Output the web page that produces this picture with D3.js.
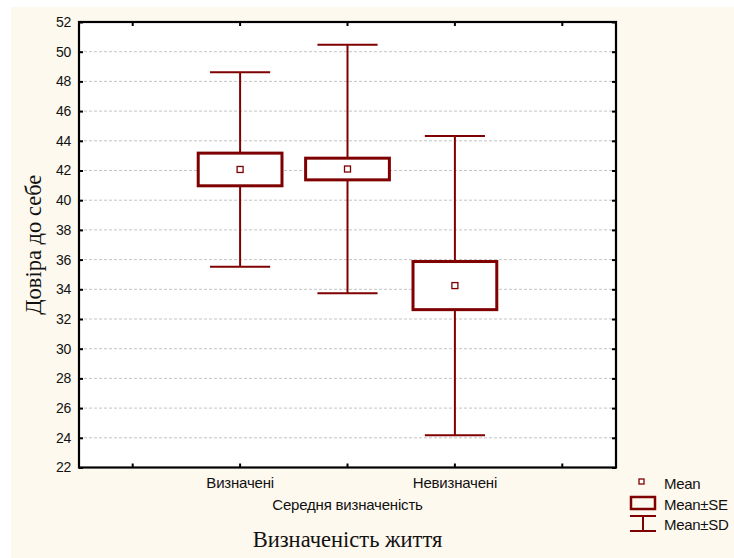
<!DOCTYPE html>
<html>
<head>
<meta charset="utf-8">
<script src="https://cdn.jsdelivr.net/npm/d3@7"></script>
<style>
  html, body { margin: 0; padding: 0; background: #ffffff; }
  svg { display: block; }
</style>
</head>
<body>
<svg id="chart" width="734" height="558"></svg>
<script>
// Group labels along the x axis
const categories = ["Визначені", "Середня визначеність", "Невизначені"];
// Group statistics for "Довіра до себе"
const means = [42.07, 42.1, 34.25];
const stdErrors = [1.1, 0.73, 1.62];
const stdDevs = [6.55, 8.37, 10.07];
// Y axis tick values
const yTicks = [22, 24, 26, 28, 30, 32, 34, 36, 38, 40, 42, 44, 46, 48, 50, 52];

const yTitle = "Довіра до себе";
const xTitle = "Визначеність життя";
const legendItems = ["Mean", "Mean±SE", "Mean±SD"];

const W = 734, H = 558;
const plot = { left: 79, right: 616, top: 22, bottom: 467.5 };
const dark = "#7f0000";
const sans = "Liberation Sans, Arial, sans-serif";
const serif = "Liberation Serif, Times New Roman, serif";

const svg = d3.select("#chart");

// cream panel behind the chart
svg.append("rect")
  .attr("x", 11).attr("y", 7)
  .attr("width", W - 11).attr("height", H - 7)
  .attr("fill", "#fef9ef");

// plotting area
svg.append("rect")
  .attr("x", plot.left).attr("y", plot.top)
  .attr("width", plot.right - plot.left).attr("height", plot.bottom - plot.top)
  .attr("fill", "#ffffff");

const y = d3.scaleLinear().domain([22, 52]).range([plot.bottom, plot.top]);
const x = d3.scalePoint().domain(categories).range([plot.left, plot.right]).padding(1.5);
const step = x.step();

// dashed horizontal grid
svg.append("g")
  .selectAll("line")
  .data(yTicks.filter(v => v > 22 && v < 52))
  .join("line")
  .attr("x1", plot.left).attr("x2", plot.right)
  .attr("y1", d => y(d)).attr("y2", d => y(d))
  .attr("stroke", "#c4c4c4")
  .attr("stroke-width", 1)
  .attr("stroke-dasharray", "3,2");

// left axis labels and inward ticks
const yAxis = d3.axisLeft(y).tickValues(yTicks).tickSize(-4).tickPadding(8).tickFormat(d3.format("d"));
const gy = svg.append("g").attr("transform", `translate(${plot.left},0)`).call(yAxis);
gy.select(".domain").remove();
gy.selectAll(".tick line").attr("stroke", "#000").attr("stroke-width", 2);
gy.selectAll("text")
  .attr("font-family", sans)
  .attr("font-size", 14)
  .attr("letter-spacing", -0.3)
  .attr("fill", "#111");

// right axis ticks (no labels)
const yAxisR = d3.axisRight(y).tickValues(yTicks).tickSize(-4).tickFormat("");
const gyr = svg.append("g").attr("transform", `translate(${plot.right},0)`).call(yAxisR);
gyr.select(".domain").remove();
gyr.selectAll(".tick line").attr("stroke", "#000").attr("stroke-width", 2);

// x tick positions: the groups plus one empty slot on either side
const xTickPos = [x(categories[0]) - step, ...categories.map(c => x(c)), x(categories[categories.length - 1]) + step];
svg.append("g").selectAll("line").data(xTickPos).join("line")
  .attr("x1", d => d).attr("x2", d => d)
  .attr("y1", plot.bottom).attr("y2", plot.bottom - 4)
  .attr("stroke", "#000").attr("stroke-width", 2);
svg.append("g").selectAll("line").data(xTickPos).join("line")
  .attr("x1", d => d).attr("x2", d => d)
  .attr("y1", plot.top).attr("y2", plot.top + 4)
  .attr("stroke", "#000").attr("stroke-width", 2);

// x category labels, staggered on two rows
svg.append("g").selectAll("text").data(categories).join("text")
  .attr("x", d => x(d))
  .attr("y", (d, i) => i % 2 === 1 ? 510 : 488)
  .attr("text-anchor", "middle")
  .attr("font-family", sans)
  .attr("font-size", 15)
  .attr("letter-spacing", -0.2)
  .attr("fill", "#111")
  .text(d => d);

// frame
svg.append("rect")
  .attr("x", plot.left).attr("y", plot.top)
  .attr("width", plot.right - plot.left).attr("height", plot.bottom - plot.top)
  .attr("fill", "none")
  .attr("stroke", "#000")
  .attr("stroke-width", 2.2);

// whisker + box plots
const boxHalf = step * 0.39;
const capHalf = step * 0.28;
const groups = svg.append("g").selectAll("g")
  .data(categories.map((c, i) => ({ c, m: means[i], se: stdErrors[i], sd: stdDevs[i] })))
  .join("g");

// whisker stems (mean±SD)
groups.append("line")
  .attr("x1", d => x(d.c)).attr("x2", d => x(d.c))
  .attr("y1", d => y(d.m + d.sd)).attr("y2", d => y(d.m - d.sd))
  .attr("stroke", dark).attr("stroke-width", 2);
groups.append("line")
  .attr("x1", d => x(d.c) - capHalf).attr("x2", d => x(d.c) + capHalf)
  .attr("y1", d => y(d.m + d.sd)).attr("y2", d => y(d.m + d.sd))
  .attr("stroke", dark).attr("stroke-width", 2);
groups.append("line")
  .attr("x1", d => x(d.c) - capHalf).attr("x2", d => x(d.c) + capHalf)
  .attr("y1", d => y(d.m - d.sd)).attr("y2", d => y(d.m - d.sd))
  .attr("stroke", dark).attr("stroke-width", 2);

// SE boxes
groups.append("rect")
  .attr("x", d => x(d.c) - boxHalf)
  .attr("y", d => y(d.m + d.se))
  .attr("width", boxHalf * 2)
  .attr("height", d => y(d.m - d.se) - y(d.m + d.se))
  .attr("fill", "#ffffff")
  .attr("stroke", dark).attr("stroke-width", 3);

// mean markers
groups.append("rect")
  .attr("x", d => x(d.c) - 3)
  .attr("y", d => y(d.m) - 3)
  .attr("width", 6).attr("height", 6)
  .attr("fill", "#ffffff")
  .attr("stroke", dark).attr("stroke-width", 1.3);

// axis titles
svg.append("text")
  .attr("transform", `translate(41,${(plot.top + plot.bottom) / 2}) rotate(-90)`)
  .attr("text-anchor", "middle")
  .attr("font-family", serif)
  .attr("font-size", 22.5)
  .attr("fill", "#111")
  .text(yTitle);

svg.append("text")
  .attr("x", (plot.left + plot.right) / 2)
  .attr("y", 547)
  .attr("text-anchor", "middle")
  .attr("font-family", serif)
  .attr("font-size", 22.5)
  .attr("fill", "#111")
  .text(xTitle);

// legend
const lg = svg.append("g");
lg.append("rect")
  .attr("x", 639).attr("y", 479).attr("width", 5).attr("height", 5)
  .attr("fill", "#fff").attr("stroke", dark).attr("stroke-width", 1.3);
lg.append("rect")
  .attr("x", 631).attr("y", 497).attr("width", 24).attr("height", 12)
  .attr("fill", "none").attr("stroke", dark).attr("stroke-width", 2.5);
lg.append("line").attr("x1", 630).attr("x2", 656).attr("y1", 516).attr("y2", 516)
  .attr("stroke", dark).attr("stroke-width", 2);
lg.append("line").attr("x1", 630).attr("x2", 656).attr("y1", 531).attr("y2", 531)
  .attr("stroke", dark).attr("stroke-width", 2);
lg.append("line").attr("x1", 643).attr("x2", 643).attr("y1", 516).attr("y2", 531)
  .attr("stroke", dark).attr("stroke-width", 2);
lg.selectAll("text").data(legendItems).join("text")
  .attr("x", 664)
  .attr("y", (d, i) => 489 + i * 20.5)
  .attr("font-family", sans)
  .attr("font-size", 15)
  .attr("letter-spacing", -0.3)
  .attr("fill", "#111")
  .text(d => d);
</script>
</body>
</html>
